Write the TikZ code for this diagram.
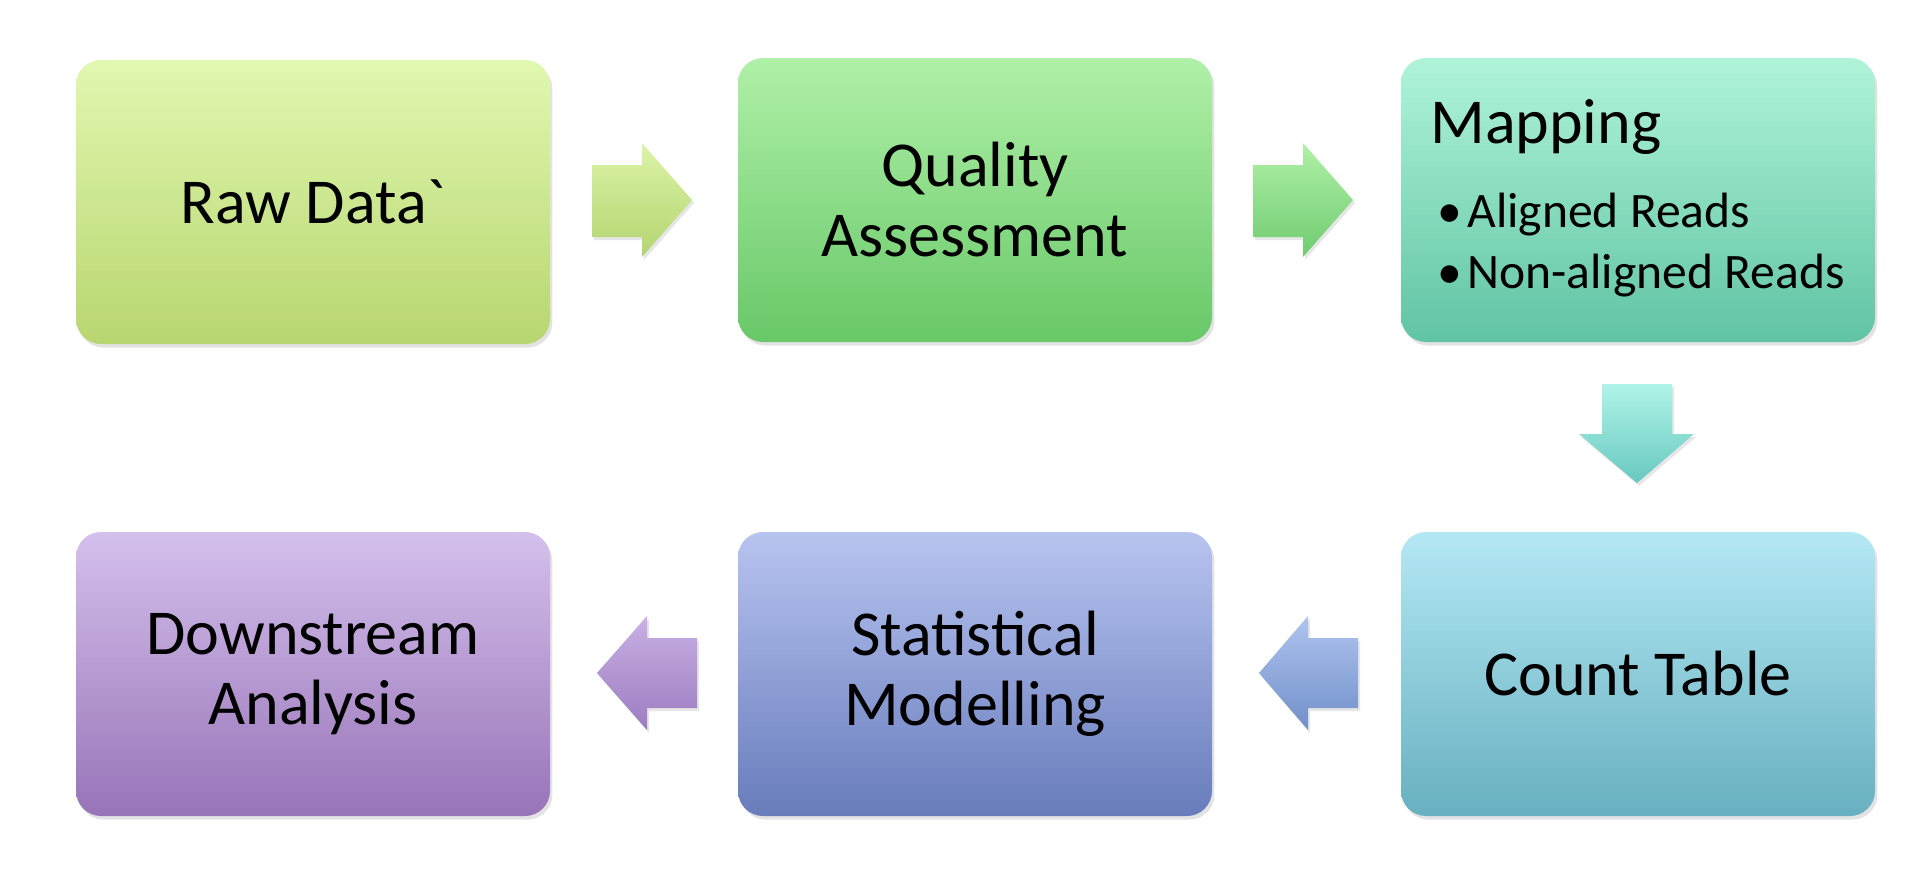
\documentclass[tikz,border=0pt]{standalone}
\usepackage{fontspec}
\setmainfont{Carlito}[Ligatures=TeXOff]
\usetikzlibrary{shadows}
\definecolor{aT}{RGB}{224,248,176}\definecolor{aB}{RGB}{184,214,112}
\definecolor{bT}{RGB}{176,240,168}\definecolor{bB}{RGB}{104,200,104}
\definecolor{cT}{RGB}{176,244,216}\definecolor{cB}{RGB}{96,196,164}
\definecolor{dT}{RGB}{180,232,244}\definecolor{dB}{RGB}{104,176,192}
\definecolor{eT}{RGB}{184,196,240}\definecolor{eB}{RGB}{104,124,188}
\definecolor{fT}{RGB}{212,192,236}\definecolor{fB}{RGB}{152,116,184}
\definecolor{r1T}{RGB}{220,244,168}\definecolor{r1B}{RGB}{180,212,112}
\definecolor{r2T}{RGB}{176,240,168}\definecolor{r2B}{RGB}{112,204,112}
\definecolor{dnT}{RGB}{176,244,232}\definecolor{dnB}{RGB}{104,200,192}
\definecolor{l2T}{RGB}{176,196,240}\definecolor{l2B}{RGB}{112,144,200}
\definecolor{l1T}{RGB}{200,176,228}\definecolor{l1B}{RGB}{156,124,192}
\begin{document}
\begin{tikzpicture}[x=0.5pt,y=-0.5pt,
  box/.style={rounded corners=12.5pt, minimum width=237pt, minimum height=142pt,
    inner sep=0pt, align=center, font=\fontsize{32}{35}\selectfont,
    drop shadow={shadow xshift=1.2pt, shadow yshift=-1.8pt, opacity=0.22}},
  blockarrow/.style={drop shadow={shadow xshift=1pt, shadow yshift=-1.5pt, opacity=0.2}},
  txt/.style={anchor=base west, inner sep=0pt},
  bigtxt/.style={font=\fontsize{32}{35}\selectfont},
  smalltxt/.style={font=\fontsize{24.8}{30.5}\selectfont}]
\useasboundingbox (0,0) rectangle (1919,873);
% boxes
\node[box, top color=aT, bottom color=aB] (raw) at (313,202) {Raw Data`};
\node[box, top color=bT, bottom color=bB] (qa) at (975,200) {Quality\\Assessment};
\node[box, top color=cT, bottom color=cB] (map) at (1638,200) {};
\node[box, top color=dT, bottom color=dB] (count) at (1638,674) {Count Table};
\node[box, top color=eT, bottom color=eB] (stat) at (975,674) {Statistical\\Modelling};
\node[box, top color=fT, bottom color=fB] (down) at (313,674) {Downstream\\Analysis};
% mapping text
\node[txt, bigtxt] (maptitle) at (1430,143) {Mapping};
\node[txt, smalltxt] (mapa) at (1437,227) {\makebox[15pt][l]{•}Aligned Reads};
\node[txt, smalltxt] (mapb) at (1437,288) {\makebox[15pt][l]{•}Non-aligned Reads};
% block arrows
\path[blockarrow, top color=r1T, bottom color=r1B]
  (592,165) -- (642,165) -- (642,143) -- (692,200) -- (642,257) -- (642,237) -- (592,237) -- cycle;
\path[blockarrow, top color=r2T, bottom color=r2B]
  (1253,165) -- (1303,165) -- (1303,143) -- (1353,200) -- (1303,257) -- (1303,237) -- (1253,237) -- cycle;
\path[blockarrow, top color=dnT, bottom color=dnB]
  (1602,384) -- (1672,384) -- (1672,434) -- (1694,434) -- (1637,483) -- (1579,434) -- (1602,434) -- cycle;
\path[blockarrow, top color=l2T, bottom color=l2B]
  (1358,638) -- (1308,638) -- (1308,616) -- (1259,673) -- (1308,730) -- (1308,708) -- (1358,708) -- cycle;
\path[blockarrow, top color=l1T, bottom color=l1B]
  (697,638) -- (647,638) -- (647,616) -- (597,673) -- (647,730) -- (647,708) -- (697,708) -- cycle;
\end{tikzpicture}
\end{document}
